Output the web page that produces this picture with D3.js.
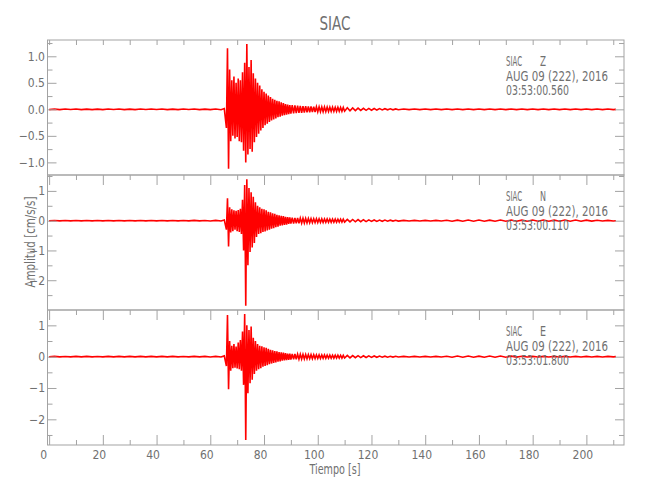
<!DOCTYPE html>
<html>
<head>
<meta charset="utf-8">
<script src="https://cdn.jsdelivr.net/npm/d3@7"></script>
<style>
  html, body { margin: 0; padding: 0; background: #fff; }
  svg text { font-family: "Liberation Sans Narrow", "DejaVu Sans", sans-serif; font-stretch: condensed; fill: #707070; }
</style>
</head>
<body>
<svg id="chart" width="650" height="500"></svg>
<script>
// ---------------- data ----------------
const title = "SIAC";
const xLabel = "Tiempo [s]";
const yLabel = "Amplitud [cm/s/s]";
const components = ["Z", "N", "E"];
const stationName = "SIAC";
const dateLine = "AUG 09 (222), 2016";
const startTimes = ["03:53:00.560", "03:53:00.110", "03:53:01.800"];
const xTickValues = [0, 20, 40, 60, 80, 100, 120, 140, 160, 180, 200];
const xMinorTickValues = [10, 30, 50, 70, 90, 110, 130, 150, 170, 190, 210];
const yTicksZ = [-1.0, -0.5, 0.0, 0.5, 1.0];
const yMinorZ = [-0.75, -0.25, 0.25, 0.75, 1.25];
const yTicksN = [-2, -1, 0, 1];
const yMinorN = [-2.5, -1.5, -0.5, 0.5, 1.5];
const yTicksE = [-2, -1, 0, 1];
const yMinorE = [-2.5, -1.5, -0.5, 0.5];

// time samples (s), shared by the three traces
const times = [
  0,2,4,6,8,10,12,14,16,18,20,22,24,26,28,30,32,34,36,38,40,42,44,46,48,50,52,54,56,58,60,62,64,
  65.2,
  66.0,66.4,66.8,67.2,67.6,68.0,68.4,68.8,69.2,69.6,70.0,70.4,70.8,71.2,71.6,72.0,72.4,72.8,73.2,73.6,
  74.0,74.4,74.8,75.2,75.6,76.0,76.4,76.8,77.2,77.6,78.0,78.4,78.8,79.2,79.6,80.0,80.4,80.8,81.2,81.6,
  82.0,82.4,82.8,83.2,83.6,84.0,84.4,84.8,85.2,85.6,86.0,86.4,86.8,87.2,87.6,88.0,88.4,88.8,89.2,89.6,90.0,
  90.5,91,91.5,92,92.5,93,93.5,94,94.5,95,95.5,96,96.5,97,97.5,98,98.5,99,99.5,100,
  100.5,101,101.5,102,102.5,103,103.5,104,104.5,105,105.5,106,106.5,107,107.5,108,108.5,109,109.5,110,
  111,112,113,114,115,116,117,118,119,120,121,122,123,124,125,126,127,128,129,130,
  132,134,136,138,140,142,144,146,148,150,152,154,156,158,160,162,164,166,168,170,
  172,174,176,178,180,182,184,186,188,190,192,194,196,198,200,202,204,206,208,210,
  211
];

// amplitudes (cm/s/s)
const ampZ = [
  -0.005,0.004,-0.005,0.005,-0.004,0.005,-0.005,0.004,-0.005,0.004,-0.005,0.005,-0.004,0.005,-0.005,0.004,-0.005,0.005,-0.004,0.005,-0.004,0.005,-0.005,0.004,-0.005,0.005,-0.004,0.005,-0.005,0.004,-0.005,0.006,-0.008,
  0.015,
  -0.35,1.15,-1.12,0.75,-0.6,0.55,-0.5,0.62,-0.55,0.5,-0.52,0.58,-0.6,0.55,-0.62,0.7,-0.78,0.88,-1.0,1.23,
  -0.85,0.8,-0.75,0.93,-0.8,0.68,-0.62,0.58,-0.52,0.5,-0.46,0.45,-0.4,0.38,-0.35,0.33,-0.3,0.3,-0.27,0.26,
  -0.24,0.23,-0.21,0.2,-0.19,0.18,-0.17,0.16,-0.15,0.15,-0.14,0.13,-0.12,0.12,-0.11,0.1,-0.1,0.09,-0.09,0.08,-0.08,
  0.08,-0.078,0.075,-0.072,0.07,-0.068,0.066,-0.065,0.062,-0.06,0.06,-0.058,0.056,-0.055,0.054,-0.052,0.05,-0.05,0.049,-0.048,
  0.047,-0.046,0.045,-0.045,0.044,-0.043,0.042,-0.042,0.041,-0.04,0.04,-0.04,0.039,-0.038,0.038,-0.037,0.036,-0.036,0.035,-0.035,
  0.03,-0.028,0.026,-0.024,0.022,-0.02,0.019,-0.018,0.017,-0.016,0.015,-0.014,0.013,-0.012,0.011,-0.01,0.009,-0.009,0.008,-0.008,
  0.006,-0.006,0.005,-0.006,0.006,-0.005,0.006,-0.006,0.005,-0.006,0.006,-0.006,0.005,-0.005,0.006,-0.006,0.005,-0.006,0.006,-0.005,
  0.006,-0.006,0.005,-0.005,0.006,-0.006,0.005,-0.006,0.006,-0.005,0.005,-0.006,0.005,-0.005,0.006,-0.005,0.005,-0.005,0.005,-0.005,
  0
];
const ampN = [
  -0.008,0.007,-0.008,0.008,-0.007,0.008,-0.008,0.007,-0.008,0.007,-0.008,0.008,-0.007,0.008,-0.008,0.007,-0.008,0.008,-0.007,0.008,-0.007,0.008,-0.008,0.007,-0.008,0.008,-0.007,0.009,-0.008,0.008,-0.01,0.01,-0.012,
  0.025,
  -0.3,0.75,-0.87,0.45,-0.4,0.38,-0.35,0.35,-0.3,0.33,-0.35,0.36,-0.38,0.4,-0.45,0.7,-1.0,1.2,-2.86,1.39,
  -1.5,1.1,-1.05,0.95,-0.9,0.8,-0.75,0.62,-0.55,0.5,-0.45,0.45,-0.42,0.4,-0.38,0.38,-0.36,0.35,-0.33,0.3,
  -0.3,0.28,-0.27,0.25,-0.25,0.23,-0.22,0.2,-0.2,0.18,-0.17,0.16,-0.16,0.15,-0.14,0.13,-0.13,0.12,-0.11,0.11,-0.1,
  0.1,-0.098,0.095,-0.092,0.09,-0.088,0.085,-0.083,0.08,-0.078,0.076,-0.075,0.073,-0.072,0.07,-0.068,0.067,-0.066,0.065,-0.064,
  0.063,-0.062,0.061,-0.06,0.059,-0.058,0.057,-0.056,0.055,-0.055,0.054,-0.053,0.052,-0.052,0.051,-0.05,0.05,-0.05,0.049,-0.048,
  0.044,-0.042,0.04,-0.038,0.036,-0.034,0.032,-0.03,0.028,-0.026,0.025,-0.024,0.022,-0.02,0.019,-0.018,0.016,-0.015,0.014,-0.013,
  0.01,-0.01,0.009,-0.01,0.01,-0.009,0.01,-0.01,0.012,-0.02,0.018,-0.02,0.02,-0.018,0.02,-0.02,0.018,-0.02,0.02,-0.018,
  0.02,-0.02,0.018,-0.02,0.02,-0.018,0.02,-0.02,0.018,-0.02,0.02,-0.018,0.02,-0.018,0.018,-0.015,0.014,-0.01,0.01,-0.009,
  0
];
const ampE = [
  -0.008,0.008,-0.008,0.007,-0.008,0.008,-0.008,0.008,-0.008,0.007,-0.008,0.008,-0.008,0.008,-0.008,0.008,-0.007,0.008,-0.008,0.008,-0.008,0.008,-0.008,0.008,-0.008,0.007,-0.008,0.008,-0.008,0.008,-0.01,0.01,-0.012,
  0.025,
  -0.3,1.33,-1.04,0.5,-0.45,0.35,-0.37,0.4,-0.35,0.32,-0.38,0.45,-0.4,0.53,-0.45,0.8,-0.9,1.36,-2.66,1.0,
  -1.17,0.85,-0.85,0.96,-0.74,0.6,-0.55,0.5,-0.45,0.4,-0.4,0.35,-0.37,0.33,-0.32,0.3,-0.3,0.28,-0.27,0.25,
  -0.24,0.22,-0.22,0.2,-0.2,0.18,-0.18,0.17,-0.16,0.15,-0.15,0.14,-0.13,0.13,-0.12,0.11,-0.11,0.1,-0.1,0.1,-0.09,
  0.09,-0.088,0.086,-0.084,0.082,-0.08,0.078,-0.076,0.074,-0.072,0.07,-0.069,0.068,-0.066,0.065,-0.064,0.062,-0.061,0.06,-0.059,
  0.058,-0.057,0.056,-0.055,0.054,-0.053,0.052,-0.051,0.05,-0.05,0.049,-0.048,0.047,-0.047,0.046,-0.045,0.045,-0.044,0.044,-0.043,
  0.04,-0.038,0.036,-0.034,0.032,-0.03,0.028,-0.026,0.024,-0.022,0.021,-0.02,0.018,-0.017,0.016,-0.015,0.014,-0.013,0.012,-0.011,
  0.01,-0.01,0.009,-0.01,0.01,-0.009,0.01,-0.01,0.012,-0.02,0.02,-0.018,0.02,-0.02,0.018,-0.02,0.02,-0.018,0.02,-0.018,
  0.016,-0.014,0.012,-0.01,0.009,-0.01,0.009,-0.009,0.01,-0.009,0.009,-0.01,0.009,-0.009,0.01,-0.009,0.009,-0.009,0.009,-0.008,
  0
];

// ---------------- layout ----------------
const svg = d3.select("#chart");
const left = 47.5, right = 624;
const x = d3.scaleLinear().domain([-0.6, 214]).range([left, right]);

const panels = [
  { comp: components[0], amp: ampZ, top: 40,  bottom: 175, domain: [-1.238, 1.307], ticks: yTicksZ, minor: yMinorZ, fmt: d3.format(".1f"), start: startTimes[0], topMajorLen: 5 },
  { comp: components[1], amp: ampN, top: 175, bottom: 310, domain: [-3.0, 1.534],  ticks: yTicksN, minor: yMinorN, fmt: d3.format("d"),   start: startTimes[1], topMajorLen: 10 },
  { comp: components[2], amp: ampE, top: 310, bottom: 445, domain: [-2.82, 1.49],  ticks: yTicksE, minor: yMinorE, fmt: d3.format("d"),   start: startTimes[2], topMajorLen: 10 }
];

const axisColor = "#a3a3a3";
const textColor = "#707070";

function styleAxis(g) {
  g.attr("font-family", null).attr("font-size", null);
  g.select(".domain").remove();
  g.selectAll(".tick line").attr("stroke", axisColor).attr("stroke-width", 1);
  g.selectAll(".tick text").attr("fill", textColor).style("font-size", "12px");
}

panels.forEach((p, i) => {
  if (p.amp.length !== times.length) console.error("length mismatch", p.comp, p.amp.length, times.length);
  const y = d3.scaleLinear().domain(p.domain).range([p.bottom, p.top]);

  const clipId = "clip" + i;
  svg.append("clipPath").attr("id", clipId)
    .append("rect").attr("x", left).attr("y", p.top).attr("width", right - left).attr("height", p.bottom - p.top);

  // trace
  const line = d3.line().x((d, k) => x(times[k])).y(d => y(d));
  svg.append("path")
    .attr("clip-path", `url(#${clipId})`)
    .attr("d", line(p.amp))
    .attr("fill", "none")
    .attr("stroke", "#ff0000")
    .attr("stroke-width", 1.6)
    .attr("stroke-linejoin", "miter");

  // frame
  svg.append("rect")
    .attr("x", left).attr("y", p.top)
    .attr("width", right - left).attr("height", p.bottom - p.top)
    .attr("fill", "none").attr("stroke", axisColor).attr("stroke-width", 1);

  // top x ticks (pointing down)
  svg.append("g").attr("transform", `translate(0,${p.top})`)
    .call(d3.axisTop(x).tickValues(xTickValues).tickSizeInner(-p.topMajorLen).tickSizeOuter(0).tickFormat(""))
    .call(styleAxis);
  svg.append("g").attr("transform", `translate(0,${p.top})`)
    .call(d3.axisTop(x).tickValues(xMinorTickValues).tickSizeInner(-5).tickSizeOuter(0).tickFormat(""))
    .call(styleAxis);

  // left y axis
  svg.append("g").attr("transform", `translate(${left},0)`)
    .call(d3.axisLeft(y).tickValues(p.ticks).tickSizeInner(-9).tickSizeOuter(0).tickPadding(2.5)
      .tickFormat(d => p.fmt(d).replace("-", "\u2212")))
    .call(styleAxis);
  svg.append("g").attr("transform", `translate(${left},0)`)
    .call(d3.axisLeft(y).tickValues(p.minor).tickSizeInner(-5).tickSizeOuter(0).tickFormat(""))
    .call(styleAxis);
  // right y axis
  svg.append("g").attr("transform", `translate(${right},0)`)
    .call(d3.axisRight(y).tickValues(p.ticks).tickSizeInner(-9).tickSizeOuter(0).tickFormat(""))
    .call(styleAxis);
  svg.append("g").attr("transform", `translate(${right},0)`)
    .call(d3.axisRight(y).tickValues(p.minor).tickSizeInner(-5).tickSizeOuter(0).tickFormat(""))
    .call(styleAxis);

  // annotation
  const ax = 506, ay = p.top + 26;
  svg.append("text").attr("x", ax).attr("y", ay).text(stationName)
    .style("font-size", "14px").attr("textLength", 16).attr("lengthAdjust", "spacingAndGlyphs");
  svg.append("text").attr("x", ax + 34).attr("y", ay).text(p.comp)
    .style("font-size", "14px").attr("textLength", 6).attr("lengthAdjust", "spacingAndGlyphs");
  svg.append("text").attr("x", ax).attr("y", ay + 14.5).text(dateLine)
    .style("font-size", "14px").attr("textLength", 102).attr("lengthAdjust", "spacingAndGlyphs");
  svg.append("text").attr("x", ax).attr("y", ay + 29).text(p.start)
    .style("font-size", "14px").attr("textLength", 63).attr("lengthAdjust", "spacingAndGlyphs");
});

// bottom x axis (ticks pointing up, labels below)
const bottomY = panels[2].bottom;
const gx = svg.append("g").attr("transform", `translate(0,${bottomY})`)
  .call(d3.axisBottom(x).tickValues(xTickValues).tickSizeInner(-10).tickSizeOuter(0).tickPadding(5.5).tickFormat(d3.format("d")))
  .call(styleAxis);
gx.selectAll(".tick text").attr("dx", d => d === 0 ? -6 : -4);
svg.append("g").attr("transform", `translate(0,${bottomY})`)
  .call(d3.axisBottom(x).tickValues(xMinorTickValues).tickSizeInner(-5).tickSizeOuter(0).tickFormat(""))
  .call(styleAxis);

// titles
svg.append("text").attr("x", 335).attr("y", 30).attr("text-anchor", "middle")
  .style("font-size", "20px").attr("textLength", 31).attr("lengthAdjust", "spacingAndGlyphs").text(title);
svg.append("text").attr("x", 335).attr("y", 474).attr("text-anchor", "middle")
  .style("font-size", "14px").attr("textLength", 51).attr("lengthAdjust", "spacingAndGlyphs").text(xLabel);
svg.append("text").attr("transform", "translate(35,242) rotate(-90)").attr("text-anchor", "middle")
  .style("font-size", "14px").attr("textLength", 91).attr("lengthAdjust", "spacingAndGlyphs").text(yLabel);
</script>
</body>
</html>
